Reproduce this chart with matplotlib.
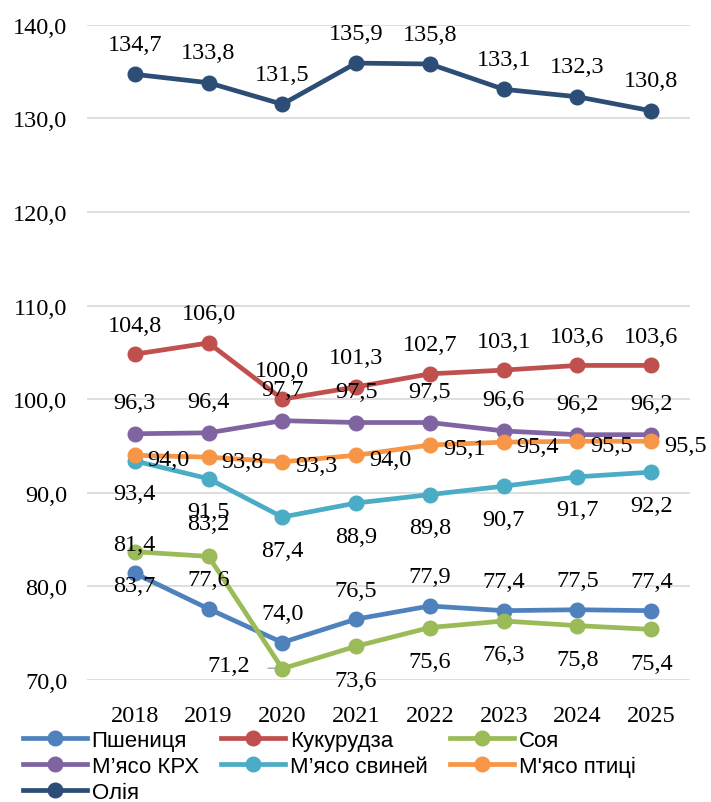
import numpy as np
import matplotlib.pyplot as plt

years = ["2018", "2019", "2020", "2021", "2022", "2023", "2024", "2025"]

wheat = [81.4, 77.6, 74.0, 76.5, 77.9, 77.4, 77.5, 77.4]
corn = [104.8, 106.0, 100.0, 101.3, 102.7, 103.1, 103.6, 103.6]
soy = [83.7, 83.2, 71.2, 73.6, 75.6, 76.3, 75.8, 75.4]
beef = [96.3, 96.4, 97.7, 97.5, 97.5, 96.6, 96.2, 96.2]
pork = [93.4, 91.5, 87.4, 88.9, 89.8, 90.7, 91.7, 92.2]
poultry = [94.0, 93.8, 93.3, 94.0, 95.1, 95.4, 95.5, 95.5]
oil = [134.7, 133.8, 131.5, 135.9, 135.8, 133.1, 132.3, 130.8]

names = ["Пшениця", "Кукурудза", "Соя", "М’ясо КРХ", "М’ясо свиней", "М'ясо птиці", "Олія"]
colors = ["#4F81BD", "#C0504D", "#9BBB59", "#8064A2", "#4BACC6", "#F79646", "#2C4D75"]

SERIF = ["Liberation Serif", "DejaVu Serif"]
NARROW = ["Liberation Sans Narrow", "Liberation Sans", "DejaVu Sans"]

fig = plt.figure(figsize=(7.11, 8.03), dpi=100)
ax = fig.add_axes([0.122, 0.152, 0.848, 0.816])

x = np.arange(len(years))
series = [wheat, corn, soy, beef, pork, poultry, oil]
lines = []
for vals, c, n in zip(series, colors, names):
    ln, = ax.plot(x, vals, color=c, lw=3.4, marker="o", ms=10.5, label=n, zorder=3)
    lines.append(ln)

def fmt(v):
    return f"{v:.1f}".replace(".", ",")

# label offsets in pixels (dx, dy, ha)
def put(vals, dx, dy, ha="center", over=None):
    over = over or {}
    for i, v in enumerate(vals):
        ox, oy, h = over.get(i, (dx, dy, ha))
        ax.annotate(fmt(v), (x[i], v), xytext=(ox, oy), textcoords="offset pixels",
                    ha=h, va="center", fontsize=17.5, family=SERIF, zorder=4)

put(oil, 0, 30)
put(corn, 0, 29)
put(beef, 0, 31)
put(wheat, 0, 29)
put(soy, 0, -34, over={1: (0, 33, "center"), 2: (-32, 3, "right")})
put(pork, 0, -33)
put(poultry, 13, -4, ha="left")

# leader line for 2020 soy label
ax.annotate("", (x[2] - 0.07, soy[2] + 0.05), xytext=(x[2] - 0.23, soy[2] + 0.05),
            arrowprops=dict(arrowstyle="-", color="#A6A6A6", lw=1))

ax.set_ylim(70, 140)
ax.set_yticks(np.arange(70, 141, 10))
ax.set_yticklabels([fmt(v) for v in np.arange(70, 141, 10)], family=SERIF, fontsize=17.5)
ax.set_xlim(-0.65, 7.52)
ax.set_xticks(x)
ax.set_xticklabels(years, family=SERIF, fontsize=17.5)
ax.tick_params(length=0, pad=18)
ax.tick_params(axis="y", pad=14)
ax.grid(axis="y", color="#D9D9D9", lw=1.2)
ax.set_axisbelow(True)
for s in ax.spines.values():
    s.set_visible(False)

order = [0, 3, 6, 1, 4, 2, 5]
fig.legend([lines[i] for i in order], [names[i] for i in order], ncol=3,
           loc="upper left", bbox_to_anchor=(0.032, 0.09), frameon=False,
           prop={"family": NARROW, "size": 16}, handlelength=2.9,
           handletextpad=0.2, columnspacing=1.0, labelspacing=0.22,
           borderaxespad=0, borderpad=0)

fig.savefig("out.png", dpi=100)
